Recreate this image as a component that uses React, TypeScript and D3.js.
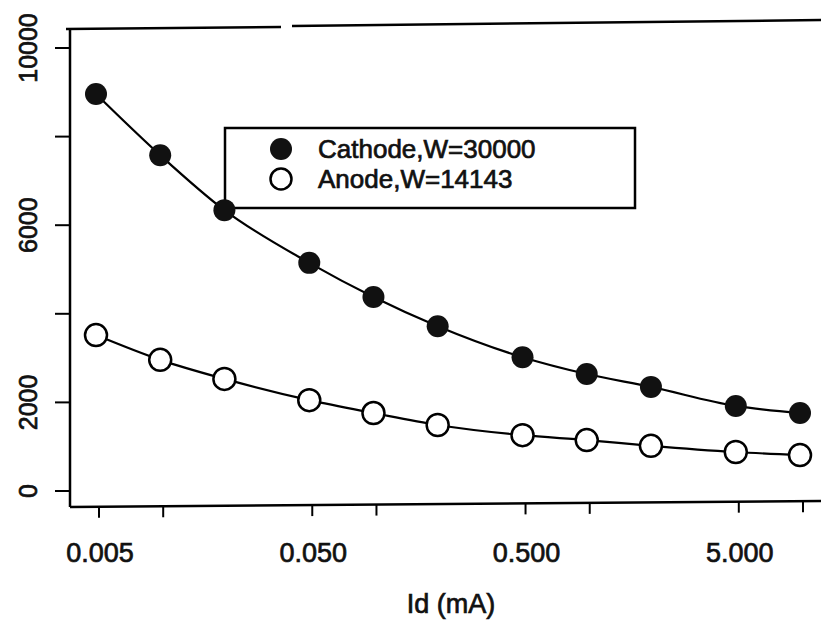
import React, { useEffect, useRef } from 'react';
import * as d3 from 'd3';

// Data
const currents = [0.005, 0.01, 0.02, 0.05, 0.1, 0.2, 0.5, 1, 2, 5, 10];
const cathode = [8960, 7580, 6340, 5150, 4380, 3720, 3020, 2640, 2350, 1920, 1760];
const anode = [3520, 2960, 2530, 2050, 1760, 1490, 1260, 1150, 1020, 880, 810];
const xTicks = [0.005, 0.01, 0.05, 0.1, 0.5, 1, 5, 10];
const xLabels = [0.005, 0.05, 0.5, 5];
const yTicks = [0, 2000, 4000, 6000, 8000, 10000];
const yLabels = [0, 2000, 6000, 10000];
const legendItems = [
  { name: 'Cathode,W=30000', filled: true },
  { name: 'Anode,W=14143', filled: false },
];

const W = 821;
const H = 623;
const FONT = '"Liberation Sans", Arial, Helvetica, sans-serif';

const App = () => {
  const svgRef = useRef<SVGSVGElement | null>(null);

  useEffect(() => {
    if (!svgRef.current) return;
    const svg = d3.select(svgRef.current);
    svg.selectAll('*').remove();

    const axisX = 70;
    const axisY = 507;

    const x = d3.scaleLog().domain([0.005, 10]).range([96, 800]);
    const y = d3.scaleLinear().domain([0, 10000]).range([491, 48]);

    // shared text style, a little heavier like the scanned print
    const txt = (sel: any, size = 27) => sel
      .style('font-family', FONT)
      .style('font-size', `${size}px`)
      .style('fill', '#111')
      .style('stroke', '#111')
      .style('stroke-width', 0.7);

    // Frame: left axis, bottom axis, broken top line
    svg.append('line')
      .attr('x1', axisX).attr('x2', axisX)
      .attr('y1', 29).attr('y2', axisY)
      .attr('stroke', '#000').attr('stroke-width', 2.5);
    svg.append('line')
      .attr('x1', axisX).attr('x2', W)
      .attr('y1', axisY).attr('y2', axisY - 6)
      .attr('stroke', '#000').attr('stroke-width', 2.5);
    svg.append('line')
      .attr('x1', 66).attr('x2', 281)
      .attr('y1', 29).attr('y2', 27)
      .attr('stroke', '#000').attr('stroke-width', 2.5);
    svg.append('line')
      .attr('x1', 292).attr('x2', W)
      .attr('y1', 26).attr('y2', 20)
      .attr('stroke', '#000').attr('stroke-width', 2.5);

    // Y ticks
    svg.selectAll('.ytick')
      .data(yTicks)
      .enter().append('line')
      .attr('x1', 55).attr('x2', axisX)
      .attr('y1', d => y(d)).attr('y2', d => y(d))
      .attr('stroke', '#000').attr('stroke-width', 2);

    svg.selectAll('.ylabel')
      .data(yLabels)
      .enter().append('text')
      .attr('transform', d => `translate(37, ${y(d)}) rotate(-90)`)
      .attr('text-anchor', 'middle')
      .call(txt, 25)
      .text(d => `${d}`);

    // X ticks
    svg.selectAll('.xtick')
      .data(xTicks)
      .enter().append('line')
      .attr('x1', d => x(d) + 3).attr('x2', d => x(d) + 3)
      .attr('y1', d => axisY - (x(d) - axisX) / (W - axisX) * 6)
      .attr('y2', d => axisY + 11 - (x(d) - axisX) / (W - axisX) * 6)
      .attr('stroke', '#000').attr('stroke-width', 2);

    svg.selectAll('.xlabel')
      .data(xLabels)
      .enter().append('text')
      .attr('x', d => x(d) + 4)
      .attr('y', 562)
      .attr('text-anchor', 'middle')
      .call(txt, 27)
      .text(d => d3.format('.3f')(d));

    svg.append('text')
      .attr('x', 451)
      .attr('y', 613)
      .attr('text-anchor', 'middle')
      .call(txt, 27)
      .text('Id (mA)');

    // Legend (drawn under the data, the curve crosses its corner)
    const legend = svg.append('g');
    legend.append('rect')
      .attr('x', 225).attr('y', 128)
      .attr('width', 410).attr('height', 80)
      .attr('fill', '#fff')
      .attr('stroke', '#000')
      .attr('stroke-width', 2.5);

    legendItems.forEach((item, i) => {
      const cy = 149 + i * 30;
      legend.append('circle')
        .attr('cx', 281).attr('cy', cy)
        .attr('r', item.filled ? 11 : 10.5)
        .attr('fill', item.filled ? '#111' : '#fff')
        .attr('stroke', '#000')
        .attr('stroke-width', item.filled ? 0 : 2.5);
      legend.append('text')
        .attr('x', 318).attr('y', cy + 9)
        .call(txt, 26)
        .text(item.name);
    });

    // Lines
    const line = d3.line<number>()
      .x((d, i) => x(currents[i]))
      .y(d => y(d))
      .curve(d3.curveMonotoneX);

    [cathode, anode].forEach(series => {
      svg.append('path')
        .datum(series)
        .attr('fill', 'none')
        .attr('stroke', '#000')
        .attr('stroke-width', 2.2)
        .attr('d', line);
    });

    // Markers
    svg.selectAll('.cathode-dot')
      .data(cathode)
      .enter().append('circle')
      .attr('cx', (d, i) => x(currents[i]))
      .attr('cy', d => y(d))
      .attr('r', 11)
      .attr('fill', '#111');

    svg.selectAll('.anode-dot')
      .data(anode)
      .enter().append('circle')
      .attr('cx', (d, i) => x(currents[i]))
      .attr('cy', d => y(d))
      .attr('r', 11)
      .attr('fill', '#fff')
      .attr('stroke', '#000')
      .attr('stroke-width', 2.5);
  }, []);

  return (
    <svg
      ref={svgRef}
      width={W}
      height={H}
      style={{ position: 'absolute', left: 0, top: 0, background: '#fff', display: 'block' }}
    />
  );
};

export default App;
